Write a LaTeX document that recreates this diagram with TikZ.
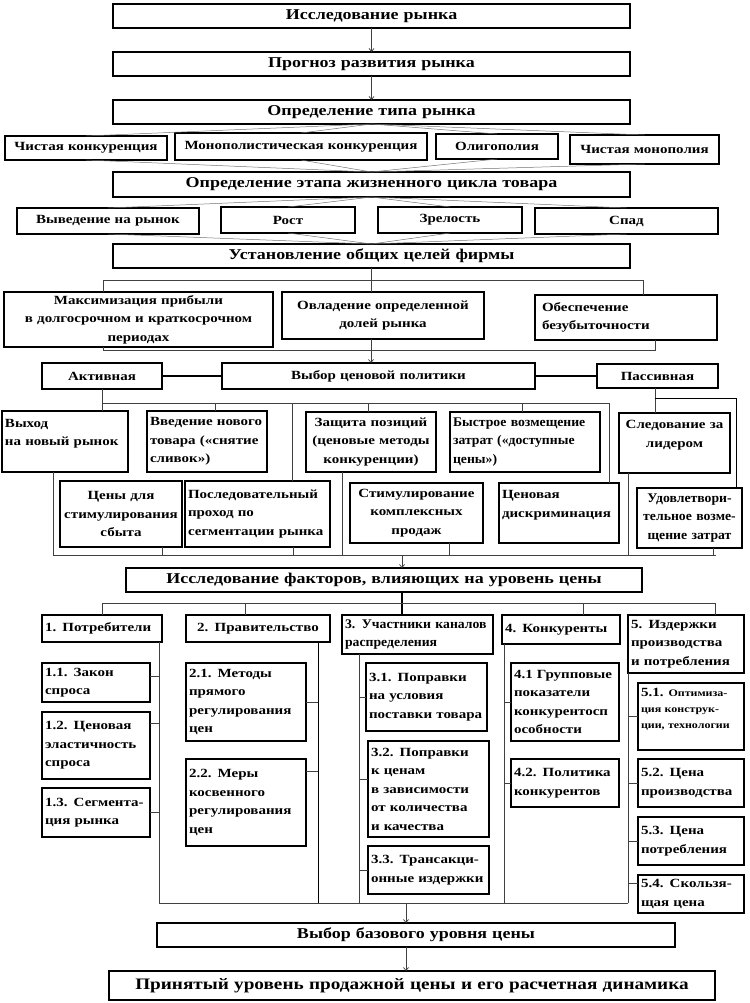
\documentclass[tikz,border=0pt]{standalone}
\usepackage{fontspec}
\setmainfont{Liberation Serif}[FakeStretch=1.2]
\newfontfamily\narrowfont{Liberation Serif}[FakeStretch=1.04]
\usetikzlibrary{arrows.meta}
\newcommand\bx[7][]{%
 \pgfmathsetmacro\mybw{#5-#3}%
 \pgfmathsetmacro\mybh{#6-#4}%
 \pgfmathsetmacro\mytw{#5-#3-6}%
 \node[box,minimum width=\mybw pt,minimum height=\mybh pt,text width=\mytw pt,#1] (#2) at ({(#3+#5)/2},{(#4+#6)/2}) {#7};}
\tikzset{
 box/.style={draw, line width=1.1pt, inner sep=0pt, outer sep=0pt, align=center, fill=white},
 thickbox/.style={line width=1.7pt},
 fL/.style={font=\bfseries\fontsize{15}{18}\selectfont},
 fXL/.style={font=\bfseries\fontsize{16}{18}\selectfont},
 fM/.style={font=\bfseries\fontsize{12.5}{18.5}\selectfont},
 fN/.style={font=\narrowfont\bfseries\fontsize{13.2}{18.5}\selectfont},
 fS/.style={font=\bfseries\fontsize{10}{16}\selectfont},
 conn/.style={line width=0.7pt, black!75},
 solidconn/.style={line width=1.2pt, black},
 fan/.style={line width=0.5pt, black!55},
 arr/.style={conn, -{Straight Barb[length=3pt,width=5pt]}},
}
\begin{document}
\begin{tikzpicture}[x=1pt,y=-1pt]
\useasboundingbox (0,0) rectangle (749,1003);
% main chain
\bx[fL]{r1}{113}{4}{630}{28}{Исследование рынка}
\bx[fL]{r2}{113}{52}{630}{76}{Прогноз развития рынка}
\bx[fL]{r3}{113}{100}{630}{124}{Определение типа рынка}
\bx[fM]{t1}{5}{136}{167}{160}{Чистая конкуренция}
\bx[fM]{t2}{175}{133}{427}{160}{Монополистическая конкуренция}
\bx[fM]{t3}{436}{134}{558}{159}{Олигополия}
\bx[fM,thickbox]{t4}{570}{135}{719}{164}{Чистая монополия}
\bx[fL]{r5}{113}{172}{630}{197}{Определение этапа жизненного цикла товара}
\bx[fM]{s1}{17}{208}{199}{234}{Выведение на рынок}
\bx[fM]{s2}{221}{207}{355}{233}{Рост}
\bx[fM]{s3}{378}{207}{522}{233}{Зрелость}
\bx[fM,thickbox]{s4}{535}{208}{718}{234}{Спад}
\bx[fL]{r7}{113}{244}{630}{268}{Установление общих целей фирмы}
% goals
\bx[fM]{g1}{4}{292}{273}{347}{Максимизация прибыли\\в долгосрочном и краткосрочном\\периодах}
\bx[fM]{g2}{282}{292}{484}{339}{Овладение определенной\\долей рынка}
\bx[fM,align=left]{g3}{535}{295}{717}{340}{\hspace*{4pt}Обеспечение\\\hspace*{4pt}безубыточности}
% policy
\bx[fM]{p1}{42}{363}{162}{389}{Активная}
\bx[fM]{p2}{222}{363}{535}{389}{Выбор ценовой политики}
\bx[fM]{p3}{597}{364}{718}{388}{Пассивная}
\bx[fM,align=left]{a1}{2}{411}{128}{472}{Выход\\на новый рынок\\~}
\bx[fM,align=left]{a2}{147}{411}{267}{472}{Введение нового\\товара («снятие\\сливок»)}
\bx[fM]{a3}{306}{412}{436}{472}{Защита позиций\\(ценовые методы\\конкуренции)}
\bx[fN,align=left]{a4}{450}{412}{600}{472}{Быстрое возмещение\\затрат («доступные\\цены»)}
\bx[fM,thickbox]{pa1}{619}{413}{730}{473}{Следование за\\лидером\\~}
\bx[fM]{b1}{60}{481}{182}{547}{Цены для\\стимулирования\\сбыта}
\bx[fM,align=left]{b2}{185}{481}{330}{547}{Последовательный\\проход по\\сегментации рынка}
\bx[fM]{b3}{350}{483}{483}{543}{Стимулирование\\комплексных\\продаж}
\bx[fM,align=left]{b4}{499}{483}{619}{543}{Ценовая\\дискриминация\\~}
\bx[fN,thickbox]{pa2}{637}{488}{742}{548}{Удовлетвори-\\тельное возме-\\щение затрат}
% factors
\bx[fL]{f0}{126}{568}{642}{592}{Исследование факторов, влияющих на уровень цены}
\bx[fM,align=left]{c1}{42}{615}{162}{642}{1. Потребители}
\bx[fM]{c2}{186}{615}{330}{642}{2. Правительство}
\bx[fN,align=left]{c3}{342}{615}{493}{654}{3. Участники каналов\\распределения}
\bx[fM,align=left]{c4}{502}{615}{620}{644}{4. Конкуренты}
\bx[fM,align=left]{c5}{628}{615}{744}{673}{5. Издержки\\производства\\и потребления}
\bx[fM,align=left]{c11}{42}{663}{150}{702}{1.1. Закон\\спроса}
\bx[fM,align=left]{c12}{42}{712}{150}{779}{1.2. Ценовая\\эластичность\\спроса}
\bx[fM,align=left]{c13}{42}{788}{150}{837}{1.3. Сегмента-\\ция рынка}
\bx[fM,align=left]{c21}{186}{663}{306}{741}{2.1. Методы\\прямого\\регулирования\\цен}
\bx[fM,align=left]{c22}{186}{759}{306}{846}{2.2. Меры\\косвенного\\регулирования\\цен}
\bx[fM,align=left]{c31}{366}{663}{487}{731}{3.1. Поправки\\на условия\\поставки товара}
\bx[fM,align=left]{c32}{368}{741}{489}{837}{3.2. Поправки\\к ценам\\в зависимости\\от количества\\и качества}
\bx[fM,align=left,thickbox]{c33}{368}{846}{489}{894}{3.3. Трансакци-\\онные издержки}
\bx[fM,align=left]{c41}{511}{663}{619}{741}{4.1 Групповые\\показатели\\конкурентосп\\особности}
\bx[fM,align=left]{c42}{511}{759}{619}{807}{4.2. Политика\\конкурентов}
\bx[fS,align=left,thickbox]{c51}{638}{683}{744}{750}{{\fontsize{12.5}{13}\selectfont 5.1.} Оптимиза-\\ция конструк-\\ции, технологии\\~}
\bx[fM,align=left]{c52}{638}{759}{744}{807}{5.2. Цена\\производства}
\bx[fM,align=left]{c53}{638}{817}{744}{865}{5.3. Цена\\потребления}
\bx[fM,align=left]{c54}{638}{875}{744}{913}{5.4. Скользя-\\щая цена}
\bx[fL]{v1}{157}{923}{675}{947}{Выбор базового уровня цены}
\bx[fXL]{v2}{109}{971}{715}{1000}{Принятый уровень продажной цены и его расчетная динамика}
% ---------- connectors
\draw[arr] (r1) -- (r2);
\draw[arr] (r2) -- (r3);
\foreach \n in {t1,t2,t3,t4} {\draw[fan] (r3.south) -- (\n.north); \draw[fan] (\n.south) -- (r5.north);}
\foreach \n in {s1,s2,s3,s4} {\draw[fan] (r5.south) -- (\n.north); \draw[fan] (\n.south) -- (r7.north);}
% goals
\coordinate (k0) at (371,280); \coordinate (k1) at (103,280); \coordinate (k2) at (643,280);
\draw[conn] (k0 |- r7.south) -- (k0);
\draw[conn] (k1 |- g1.north) -- (k1) -- (k2) -- (k2 |- g3.north);
\draw[conn] (k0) -- (k0 |- g2.north);
\coordinate (m0) at (371,350); \coordinate (m1) at (103,350); \coordinate (m2) at (655,350);
\draw[conn] (m1 |- g1.south) -- (m1) -- (m2) -- (m2 |- g3.south);
\draw[arr] (m0 |- g2.south) -- (m0 |- p2.north);
\draw[solidconn] (p1) -- (p2);
\draw[solidconn] (p2) -- (p3);
% active
\coordinate (n0) at (102,403); \coordinate (n1) at (609,403);
\draw[conn] (n0 |- p1.south) -- (n0) -- (n1) -- (n1 |- b4.north);
\foreach \x/\n in {102/a1,215/a2,368/a3,522/a4,292/b2} {\coordinate (nt) at (\x,403); \draw[conn] (nt) -- (nt |- \n.north);}
% passive
\coordinate (q0) at (655,398); \coordinate (q1) at (736,398);
\draw[conn] (q0 |- p3.south) -- (q0 |- pa1.north);
\draw[solidconn, line width=0.9pt] (q0) -- (q1) -- (q1 |- pa2.north);
% collection
\coordinate (o1) at (53,555); \coordinate (o2) at (716,555); \coordinate (o0) at (402,555);
\draw[conn] (o1) -- (o2);
\foreach \x/\n in {53/a1,162/b1,293/b2,342/a3,449/b3,628/pa1,713/pa2} {\coordinate (ot) at (\x,555); \draw[conn] (ot |- \n.south) -- (ot);}
\draw[arr] (o0) -- (o0 |- f0.north);
% factors
\coordinate (h0) at (402,603); \coordinate (h1) at (102,603); \coordinate (h2) at (715,603);
\draw[solidconn] (h0 |- f0.south) -- (h0) -- (h0 |- c3.north);
\draw[conn] (h1) -- (h2);
\foreach \x/\n in {102/c1,245/c2,583/c4,715/c5} {\coordinate (ht) at (\x,603); \draw[conn] (ht) -- (ht |- \n.north);}
\coordinate (w1) at (159,903); \coordinate (w2) at (318,903); \coordinate (w3) at (359,903);
\coordinate (w4) at (504,903); \coordinate (w5) at (628,903);
\draw[conn] (w1 |- c1.south) -- (w1);
\draw[solidconn, line width=1pt] (w2 |- c2.south) -- (w2);
\draw[conn] (w3 |- c3.south) -- (w3);
\draw[conn] (w4 |- c4.south) -- (w4);
\draw[conn] (w5 |- c5.south) -- (w5);
\draw[conn] (w1) -- (w5);
\draw[conn] ([yshift=6pt]c11.east) -- ([yshift=6pt]c11.east -| w1);
\draw[conn] ([yshift=22pt]c12.east) -- ([yshift=22pt]c12.east -| w1);
\draw[conn] (c13.east) -- (c13.east -| w1);
\draw[conn] (c21.east) -- (c21.east -| w2);
\draw[conn] ([yshift=31pt]c22.east) -- ([yshift=31pt]c22.east -| w2);
\draw[conn] (c31.west) -- (c31.west -| w3);
\draw[conn] ([yshift=10pt]c32.west) -- ([yshift=10pt]c32.west -| w3);
\draw[conn] (c33.west) -- (c33.west -| w3);
\draw[conn] (c41.west) -- (c41.west -| w4);
\draw[conn] (c42.west) -- (c42.west -| w4);
\draw[conn] (c51.west) -- (c51.west -| w5);
\draw[conn] (c52.west) -- (c52.west -| w5);
\draw[conn] (c53.west) -- (c53.west -| w5);
\draw[conn] ([yshift=11pt]c54.west) -- ([yshift=11pt]c54.west -| w5);
\coordinate (z0) at (406,903);
\draw[arr] (z0) -- (z0 |- v1.north);
\draw[arr] (v1.south -| z0) -- (v2.north -| z0);
\end{tikzpicture}
\end{document}
